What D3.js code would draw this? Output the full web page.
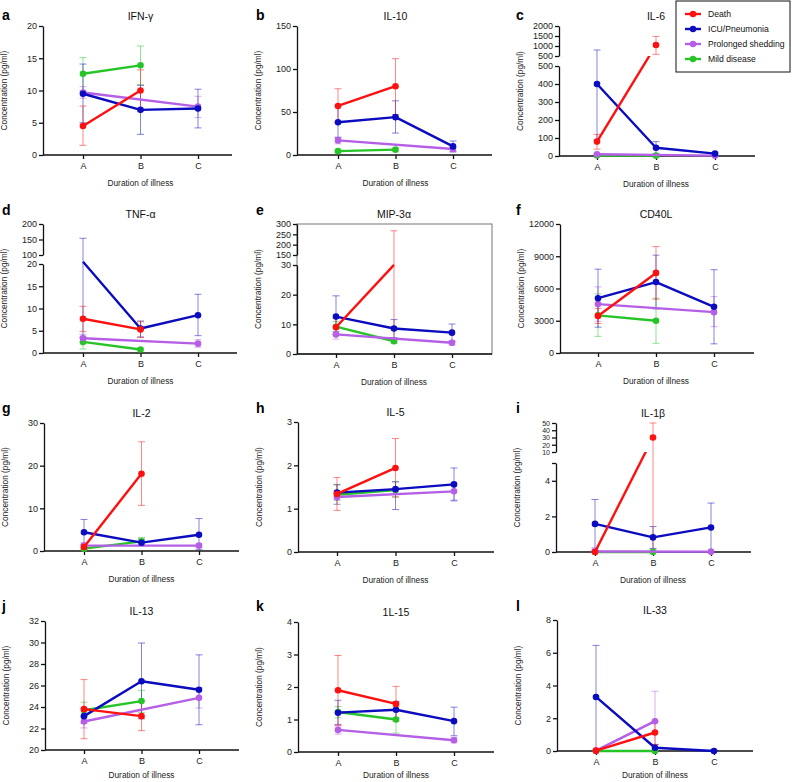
<!DOCTYPE html>
<html><head><meta charset="utf-8">
<script src="https://cdn.jsdelivr.net/npm/d3@7"></script>
<style>body{margin:0;background:#fff} svg text{font-family:"Liberation Sans",Arial,sans-serif}</style>
</head><body><svg id="chart" width="792" height="782"></svg>
<script>
// ---------- data ----------
const categories = ["A", "B", "C"];
const seriesNames = ["Death", "ICU/Pneumonia", "Prolonged shedding", "Mild disease"];
const seriesColors = ["#ff1010", "#0b0bc0", "#b55fe6", "#27c427"];
const titles = ["IFN-γ", "IL-10", "IL-6", "TNF-α", "MIP-3α", "CD40L", "IL-2", "IL-5", "IL-1β", "IL-13", "1L-15", "IL-33"];
const letters = ["a","b","c","d","e","f","g","h","i","j","k","l"];

// rows: Death, ICU/Pneumonia, Prolonged shedding, Mild disease ; columns: A, B, C
const ifnMean = [[4.5,10.0,null],[9.5,7.0,7.2],[9.7,null,7.5],[12.6,13.9,null]];
const ifnLow  = [[1.5,6.8,null],[5.0,3.2,4.2],[8.8,null,5.8],[10.0,10.9,null]];
const ifnHigh = [[7.6,13.2,null],[14.1,10.8,10.2],[10.6,null,9.1],[15.1,16.9,null]];

const il10Mean = [[57,80,null],[38,44,10],[17,null,7],[4.5,6.2,null]];
const il10Low  = [[38,47,null],[20,25.5,3.5],[13,null,4],[3,4.5,null]];
const il10High = [[77,112,null],[57,63,16.3],[21,null,10],[6,8,null]];

const il6Mean = [[80,1050,null],[400,46,13],[10,null,2],[3,2,null]];
const il6Low  = [[38,585,null],[90,12,6],[4,null,0],[1,0.5,null]];
const il6High = [[120,1480,null],[800,80,20],[16,null,4],[5,4,null]];

const tnfMean = [[7.7,5.3,null],[40,5.5,8.5],[3.3,null,2.1],[2.5,0.8,null]];
const tnfLow  = [[4.8,3.5,null],[3.5,3.6,3.9],[2.4,null,1.3],[0.9,0.5,null]];
const tnfHigh = [[10.5,7.0,null],[154,7.2,13.2],[4.2,null,3.0],[3.8,1.1,null]];

const mipMean = [[9,31,null],[12.6,8.6,7.2],[6.6,null,3.8],[9.2,4.3,null]];
const mipLow  = [[6.5,4.5,null],[6.5,5.5,4.2],[5.0,null,3.0],[7.5,3.5,null]];
const mipHigh = [[12,267,null],[19.6,11.6,10.1],[7.5,null,4.6],[11,5,null]];

const cd40Mean = [[3450,7450,null],[5100,6600,4300],[4550,null,3800],[3500,3000,null]];
const cd40Low  = [[2750,5000,null],[2400,4100,850],[2950,null,2450],[1550,900,null]];
const cd40High = [[4150,9900,null],[7800,9100,7750],[6150,null,5250],[5500,5100,null]];

const il2Mean = [[0.95,18.1,null],[4.4,1.95,3.8],[1.25,null,1.25],[0.55,2.25,null]];
const il2Low  = [[0.3,10.7,null],[1.4,1.2,0.3],[0.5,null,0.8],[0.2,1.4,null]];
const il2High = [[1.6,25.6,null],[7.4,2.8,7.6],[1.9,null,1.7],[0.9,3.2,null]];

const il5Mean = [[1.34,1.94,null],[1.37,1.45,1.56],[1.27,null,1.40],[1.32,1.43,null]];
const il5Low  = [[0.96,1.27,null],[1.2,0.98,1.18],[1.1,null,1.2],[1.1,1.27,null]];
const il5High = [[1.72,2.62,null],[1.55,1.62,1.94],[1.42,null,1.6],[1.56,1.62,null]];

const il1bMean = [[0.0,30,null],[1.58,0.82,1.38],[0.03,null,0.02],[0.0,0.0,null]];
const il1bLow  = [[0.0,0.0,null],[0.22,0.2,0.0],[0,null,0],[0,0,null]];
const il1bHigh = [[0.1,50,null],[2.95,1.43,2.75],[0.05,null,0.05],[0.05,0.15,null]];

const il13Mean = [[23.8,23.15,null],[23.15,26.4,25.6],[22.65,null,24.85],[23.7,24.55,null]];
const il13Low  = [[21.05,21.8,null],[22.5,22.9,22.35],[22.05,null,23.9],[23.0,23.5,null]];
const il13High = [[26.55,24.5,null],[23.9,29.95,28.85],[23.2,null,25.8],[24.45,25.55,null]];

const il15Mean = [[1.9,1.48,null],[1.21,1.3,0.95],[0.68,null,0.36],[1.23,1.0,null]];
const il15Low  = [[0.82,0.95,null],[0.85,1.05,0.5],[0.55,null,0.28],[1.05,0.58,null]];
const il15High = [[2.97,2.02,null],[1.59,1.55,1.38],[0.8,null,0.45],[1.4,1.4,null]];

const il33Mean = [[0.02,1.13,null],[3.3,0.2,0.0],[0.02,1.82,null],[0.0,0.0,null]];
const il33Low  = [[0,0.4,null],[0,0,0],[0,0,null],[0,0,null]];
const il33High = [[0.05,1.8,null],[6.45,0.4,0.05],[0.05,3.65,null],[0,0,null]];

// y-axis ticks (lower segment / upper segment for broken axes)
const ticksA = [0,5,10,15,20];
const ticksB = [0,50,100,150];
const ticksCLow = [0,100,200,300,400,500], ticksCTop = [500,1000,1500,2000];
const ticksDLow = [0,5,10,15,20], ticksDTop = [100,150,200];
const ticksELow = [0,10,20,30], ticksETop = [150,200,250,300];
const ticksF = [0,3000,6000,9000,12000];
const ticksG = [0,10,20,30];
const ticksH = [0,1,2,3];
const ticksILow = [0,2,4,5], ticksITop = [10,20,30,40,50];
const ticksJ = [20,22,24,26,28,30,32];
const ticksK = [0,1,2,3,4];
const ticksL = [0,2,4,6,8];

// ---------- layout ----------
const panels = [
  {mean:ifnMean, low:ifnLow, high:ifnHigh, ticks:ticksA, x0:43, x1:232, xA:83, xC:198, yTop:26, yBot:155},
  {mean:il10Mean, low:il10Low, high:il10High, ticks:ticksB, x0:297, x1:492, xA:338, xC:453, yTop:26, yBot:155},
  {mean:il6Mean, low:il6Low, high:il6High, lowTicks:ticksCLow, topTicks:ticksCTop, x0:559, x1:755, xA:597, xC:715, yTop:26, yTopBot:56, yLowTop:66, yBot:156},
  {mean:tnfMean, low:tnfLow, high:tnfHigh, lowTicks:ticksDLow, topTicks:ticksDTop, x0:43, x1:237, xA:83, xC:198, yTop:224, yTopBot:255, yLowTop:264, yBot:353},
  {mean:mipMean, low:mipLow, high:mipHigh, lowTicks:ticksELow, topTicks:ticksETop, x0:297, x1:492, xA:336, xC:452, yTop:224, yTopBot:255, yLowTop:265, yBot:354, box:true},
  {mean:cd40Mean, low:cd40Low, high:cd40High, ticks:ticksF, x0:560, x1:754, xA:598, xC:714, yTop:224, yBot:353},
  {mean:il2Mean, low:il2Low, high:il2High, ticks:ticksG, x0:44, x1:239, xA:84, xC:199, yTop:423, yBot:551},
  {mean:il5Mean, low:il5Low, high:il5High, ticks:ticksH, x0:298, x1:494, xA:337, xC:454, yTop:422, yBot:552},
  {mean:il1bMean, low:il1bLow, high:il1bHigh, lowTicks:ticksILow, topTicks:ticksITop, x0:556, x1:751, xA:595, xC:711, yTop:423, yTopBot:452, yLowTop:463, yBot:552, hideTop:true, smallTop:true},
  {mean:il13Mean, low:il13Low, high:il13High, ticks:ticksJ, x0:45, x1:239, xA:84, xC:199, yTop:621, yBot:750},
  {mean:il15Mean, low:il15Low, high:il15High, ticks:ticksK, x0:298, x1:494, xA:338, xC:454, yTop:622, yBot:752},
  {mean:il33Mean, low:il33Low, high:il33High, ticks:ticksL, x0:557, x1:753, xA:596, xC:714, yTop:620, yBot:751}
];
const letterX = [2, 256, 516];
const letterY = [20, 215, 413, 611];
const drawOrder = [3, 2, 1, 0];
const fmt = d3.format("d");

const svg = d3.select("#chart");
const defs = svg.append("defs");

function styleAxis(g) {
  g.attr("font-size", 9).attr("font-family", '"Liberation Sans",Arial,sans-serif');
  g.selectAll("path,line").attr("stroke", "#111").attr("stroke-width", 1.3);
  g.selectAll("text").attr("fill", "#222");
}

panels.forEach((p, i) => {
  const g = svg.append("g");
  const broken = !!p.lowTicks;
  const x = d3.scalePoint().domain(categories).range([p.xA, p.xC]);
  let y, lowMax, topMin;
  if (broken) {
    lowMax = d3.max(p.lowTicks); topMin = d3.min(p.topTicks);
    y = d3.scaleLinear()
      .domain([d3.min(p.lowTicks), lowMax, topMin, d3.max(p.topTicks)])
      .range([p.yBot, p.yLowTop, p.yTopBot, p.yTop]);
  } else {
    y = d3.scaleLinear().domain(d3.extent(p.ticks)).range([p.yBot, p.yTop]);
  }

  if (p.box) {
    g.append("rect").attr("x", p.x0).attr("y", p.yTop).attr("width", p.x1 - p.x0).attr("height", p.yBot - p.yTop)
      .attr("fill", "none").attr("stroke", "#777").attr("stroke-width", 1);
  }

  // y axes
  if (broken) {
    const yl = d3.scaleLinear().domain([d3.min(p.lowTicks), lowMax]).range([p.yBot, p.yLowTop]);
    const yt = d3.scaleLinear().domain([topMin, d3.max(p.topTicks)]).range([p.yTopBot, p.yTop]);
    const ga = g.append("g").attr("transform", `translate(${p.x0},0)`)
      .call(d3.axisLeft(yl).tickValues(p.lowTicks).tickSize(4).tickSizeOuter(0).tickPadding(2)
        .tickFormat(d => (p.hideTop && d === lowMax) ? "" : fmt(d)));
    styleAxis(ga);
    const gb = g.append("g").attr("transform", `translate(${p.x0},0)`)
      .call(d3.axisLeft(yt).tickValues(p.topTicks).tickSize(4).tickSizeOuter(0).tickPadding(2).tickFormat(fmt));
    styleAxis(gb);
    if (p.smallTop) gb.selectAll("text").attr("font-size", 7);
  } else {
    const ga = g.append("g").attr("transform", `translate(${p.x0},0)`)
      .call(d3.axisLeft(y).tickValues(p.ticks).tickSize(4).tickSizeOuter(0).tickPadding(2).tickFormat(fmt));
    styleAxis(ga);
  }

  // x axis
  const gx = g.append("g").attr("transform", `translate(0,${p.yBot})`)
    .call(d3.axisBottom(x).tickSize(4).tickSizeOuter(0).tickPadding(4));
  gx.select(".domain").remove();
  gx.append("line").attr("x1", p.x0).attr("x2", p.x1).attr("y1", 0).attr("y2", 0);
  styleAxis(gx);

  // labels
  g.append("text").attr("x", x("B")).attr("y", p.yTop - 6).attr("text-anchor", "middle")
    .attr("font-size", 10.5).attr("fill", "#111").text(titles[i]);
  g.append("text").attr("x", x("B")).attr("y", Math.min(p.yBot + 31, 778)).attr("text-anchor", "middle")
    .attr("font-size", 8.3).attr("fill", "#222").text("Duration of illness");
  const cy = (p.yTop + p.yBot) / 2, cx = p.x0 - 36;
  g.append("text").attr("transform", `translate(${cx},${cy}) rotate(-90)`).attr("text-anchor", "middle")
    .attr("font-size", 8.3).attr("fill", "#222").text("Concentration (pg/ml)");
  g.append("text").attr("x", letterX[i % 3]).attr("y", letterY[Math.floor(i / 3)])
    .attr("font-size", 14).attr("font-weight", "bold").attr("fill", "#000").text(letters[i]);

  // clip for lines in broken panels
  let clipId = null;
  if (broken) {
    clipId = "clip" + i;
    defs.append("clipPath").attr("id", clipId).append("rect")
      .attr("x", p.x0 - 10).attr("y", p.yTopBot).attr("width", p.x1 - p.x0 + 20).attr("height", p.yBot - p.yTopBot + 10);
  }

  // error bars
  drawOrder.forEach(s => {
    categories.forEach((c, k) => {
      const m = p.mean[s][k]; if (m == null) return;
      const lo = p.low[s][k], hi = p.high[s][k];
      if (lo === hi) return;
      const eg = g.append("g").attr("stroke", seriesColors[s]).attr("stroke-opacity", 0.5).attr("stroke-width", 1);
      const xc = x(c);
      eg.append("line").attr("x1", xc).attr("x2", xc).attr("y1", y(lo)).attr("y2", y(hi));
      eg.append("line").attr("x1", xc - 3.5).attr("x2", xc + 3.5).attr("y1", y(hi)).attr("y2", y(hi));
      eg.append("line").attr("x1", xc - 3.5).attr("x2", xc + 3.5).attr("y1", y(lo)).attr("y2", y(lo));
    });
  });

  // lines and dots
  drawOrder.forEach(s => {
    const pts = categories.map((c, k) => ({c, v: p.mean[s][k]})).filter(d => d.v != null);
    const line = d3.line().x(d => x(d.c)).y(d => y(d.v));
    const path = g.append("path").datum(pts).attr("d", line).attr("fill", "none")
      .attr("stroke", seriesColors[s]).attr("stroke-width", 2.4).attr("stroke-linejoin", "round");
    if (clipId) path.attr("clip-path", `url(#${clipId})`);
    g.selectAll(null).data(pts.filter(d => !(broken && d.v > lowMax && d.v < topMin))).join("circle")
      .attr("cx", d => x(d.c)).attr("cy", d => y(d.v)).attr("r", 3.3).attr("fill", seriesColors[s]);
  });
});

// legend
const lg = svg.append("g");
lg.append("rect").attr("x", 676).attr("y", 1).attr("width", 114).attr("height", 71)
  .attr("fill", "#fff").attr("stroke", "#111").attr("stroke-width", 1);
seriesNames.forEach((n, s) => {
  const yy = 14 + s * 15;
  lg.append("line").attr("x1", 685).attr("x2", 701).attr("y1", yy).attr("y2", yy)
    .attr("stroke", seriesColors[s]).attr("stroke-width", 2.4);
  lg.append("circle").attr("cx", 693).attr("cy", yy).attr("r", 3.2).attr("fill", seriesColors[s]);
  lg.append("text").attr("x", 708).attr("y", yy + 3).attr("font-size", 8.6).attr("fill", "#111").text(n);
});
</script></body></html>
